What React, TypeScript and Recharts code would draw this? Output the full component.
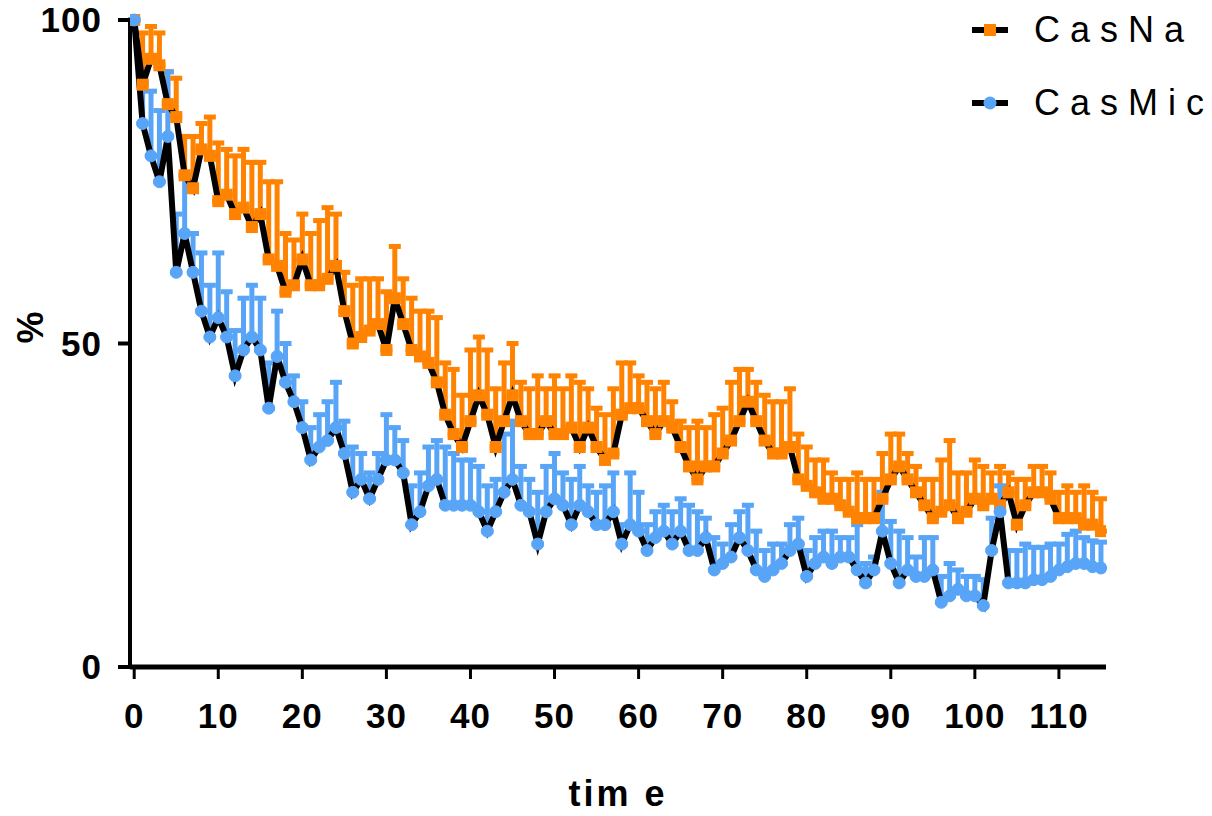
import React from "react";
import { LineChart, Line, XAxis, YAxis, ErrorBar } from "recharts";

const casNaMean = [
  100, 90, 94, 93, 87, 85, 76, 74, 80, 79,
  72, 73, 70, 71, 68, 70, 63, 62, 58, 59,
  63, 59, 59, 60, 62, 55, 50, 51, 52, 53,
  49, 57, 53, 49, 48, 47, 44, 39, 36, 34,
  38, 42, 39, 34, 38, 42, 38, 36, 36, 38,
  36, 36, 37, 34, 37, 34, 32, 33, 39, 40,
  40, 38, 36, 38, 37, 34, 31, 29, 31, 31,
  33, 35, 38, 41, 38, 35, 33, 33, 34, 29,
  28, 27, 26, 26, 25, 24, 23, 23, 23, 26,
  29, 31, 29, 27, 25, 23, 24, 25, 23, 24,
  26, 25, 26, 25, 27, 22, 25, 27, 27, 26,
  23, 23, 23, 22, 22, 21,
];

const casNaErr = [
  0, 8, 5, 5, 5, 6, 6, 8, 4, 6,
  9, 7, 9, 9, 10, 8, 12, 13, 9, 7,
  7, 8, 10, 11, 8, 6, 9, 9, 8, 7,
  9, 8, 7, 8, 7, 8, 10, 8, 10, 8,
  11, 9, 10, 9, 9, 8, 6, 7, 9, 5,
  9, 7, 8, 10, 6, 6, 7, 10, 8, 7,
  5, 6, 7, 6, 4, 4, 6, 9, 6, 8,
  7, 9, 8, 5, 6, 7, 8, 8, 9, 7,
  6, 5, 6, 4, 4, 5, 7, 6, 6, 7,
  7, 5, 4, 4, 4, 6, 8, 10, 7, 6,
  6, 6, 4, 6, 3, 7, 4, 4, 4, 4,
  4, 5, 4, 6, 5, 5,
];

const casMicMean = [
  100, 84, 79, 75, 82, 61, 67, 61, 55, 51,
  54, 51, 45, 49, 51, 49, 40, 48, 44, 41,
  37, 32, 34, 35, 37, 33, 27, 29, 26, 29,
  32, 32, 30, 22, 24, 28, 29, 25, 25, 25,
  25, 24, 21, 24, 27, 29, 25, 24, 19, 24,
  26, 25, 22, 25, 24, 22, 22, 24, 19, 22,
  21, 18, 20, 21, 19, 21, 18, 18, 20, 15,
  16, 17, 20, 18, 15, 14, 15, 16, 18, 19,
  14, 16, 17, 16, 17, 17, 15, 13, 15, 21,
  16, 13, 15, 14, 14, 15, 10, 11, 12, 11,
  11, 9.5, 18, 24, 13, 13, 13, 13.5, 13.5, 14,
  15, 15.5, 16, 16, 15.5, 15.3,
];

const casMicErr = [
  0, 6.5, 10, 11, 10, 9, 9, 6, 9, 8,
  10, 7, 7, 8, 8, 8, 7, 7, 6, 4,
  4, 5, 5, 6, 7, 5, 7, 4, 4, 4,
  7, 5, 5, 6, 6, 6, 6, 9, 8, 7,
  7, 7, 7, 5, 9, 9, 6, 5, 8, 7,
  7, 5, 7, 6, 4, 5, 6, 6, 3, 8,
  6, 4, 4, 4, 5, 5, 7, 6, 3, 5,
  3, 5, 4, 7, 6, 4, 4, 3, 4, 4,
  4, 4, 4, 5, 3, 3, 7, 3, 2, 6,
  6.5, 8, 5, 3, 6, 5, 4, 5, 3, 3,
  3, 4, 5, 4, 5, 5, 6, 5, 5, 5,
  4, 5, 5, 4, 4, 4,
];

const xTicks = [0, 10, 20, 30, 40, 50, 60, 70, 80, 90, 100, 110];
const yTicks = [0, 50, 100];

const ORANGE = "#ff8200";
const BLUE = "#58a5f8";
const FONT = "'Liberation Sans', Arial, sans-serif";

const data = casNaMean.map((v, i) => ({
  time: i,
  na: v,
  naErr: [0, casNaErr[i]],
  mic: casMicMean[i],
  micErr: [0, casMicErr[i]],
}));

const tickStyle = { fill: "#000", fontSize: 35, fontWeight: 700, fontFamily: FONT, letterSpacing: 1 };

function SquareDot(props: any) {
  const { cx, cy, index } = props;
  if (cx == null || cy == null) return <g key={`s${index}`} />;
  return <rect key={`s${index}`} x={cx - 6} y={cy - 6} width={12} height={12} fill={ORANGE} />;
}

function LegendRow({ label, top, square }: { label: string; top: number; square: boolean }) {
  return (
    <div style={{ position: "absolute", left: 970, top: top - 22, height: 44, display: "flex", alignItems: "center" }}>
      <svg width={50} height={44}>
        <line x1={2} y1={22} x2={38} y2={22} stroke="#000" strokeWidth={6} />
        {square ? (
          <rect x={14} y={16} width={12} height={12} fill={ORANGE} />
        ) : (
          <circle cx={20} cy={22} r={6.5} fill={BLUE} />
        )}
      </svg>
      <span style={{ fontFamily: FONT, fontSize: 36, letterSpacing: 10, color: "#000", marginLeft: 14 }}>{label}</span>
    </div>
  );
}

export default function App() {
  return (
    <div style={{ position: "absolute", left: 0, top: 0, width: 1212, height: 816, background: "#fff" }}>
      <LineChart width={1212} height={816} data={data} margin={{ top: 20, right: 106, bottom: 0, left: 0 }}>
        <XAxis
          dataKey="time"
          type="number"
          domain={[-0.5, 115.6]}
          ticks={xTicks}
          allowDataOverflow
          height={149}
          tickSize={12}
          tickMargin={24}
          axisLine={{ stroke: "#000", strokeWidth: 5 }}
          tickLine={{ stroke: "#000", strokeWidth: 3 }}
          tick={tickStyle}
          label={{
            value: "tim e",
            position: "insideBottom",
            offset: 10,
            style: { fill: "#000", fontSize: 36, fontWeight: 700, fontFamily: FONT, letterSpacing: 3 },
          }}
        />
        <YAxis
          type="number"
          domain={[0, 100]}
          ticks={yTicks}
          width={130}
          tickSize={12}
          tickMargin={16}
          axisLine={{ stroke: "#000", strokeWidth: 4 }}
          tickLine={{ stroke: "#000", strokeWidth: 4 }}
          tick={tickStyle}
          label={{
            value: "%",
            angle: -90,
            position: "insideLeft",
            offset: 30,
            style: { fill: "#000", fontSize: 36, fontWeight: 700, fontFamily: FONT },
          }}
        />
        <Line dataKey="na" stroke="none" isAnimationActive={false} dot={<SquareDot />} activeDot={false}>
          <ErrorBar dataKey="naErr" direction="y" width={6} stroke={ORANGE} strokeWidth={5} />
        </Line>
        <Line
          dataKey="mic"
          stroke="none"
          isAnimationActive={false}
          dot={{ r: 6, fill: BLUE, stroke: BLUE, strokeWidth: 1 }}
          activeDot={false}
        >
          <ErrorBar dataKey="micErr" direction="y" width={6} stroke={BLUE} strokeWidth={5} />
        </Line>
        <Line dataKey="na" stroke="#000" strokeWidth={6} dot={false} activeDot={false} isAnimationActive={false} />
        <Line dataKey="mic" stroke="#000" strokeWidth={6} dot={false} activeDot={false} isAnimationActive={false} />
      </LineChart>
      <LegendRow label="CasNa" top={30} square />
      <LegendRow label="CasMic" top={103} square={false} />
    </div>
  );
}
